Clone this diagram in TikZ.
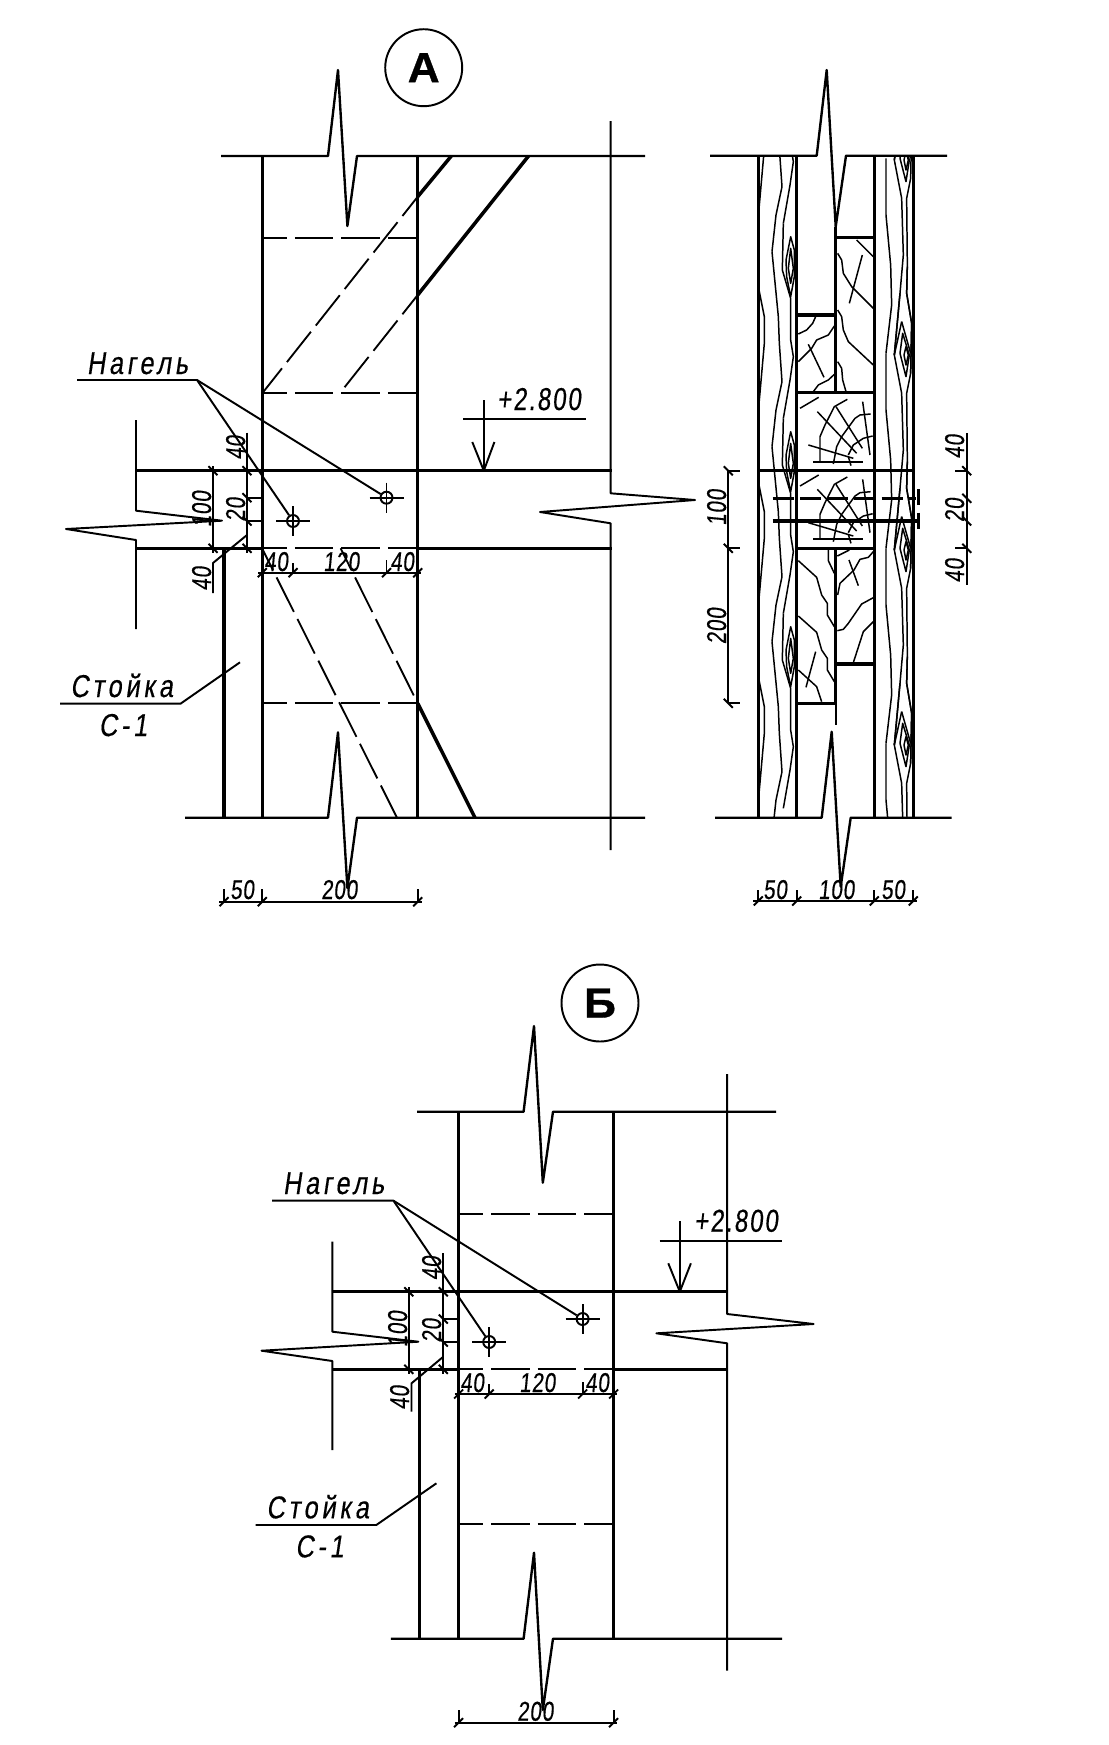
\documentclass[tikz,border=0pt]{standalone}
\usepackage{fontspec}
\newfontfamily\dimfont[FakeSlant=0.1,FakeStretch=0.76,FakeBold=0.4,LetterSpace=3]{Liberation Sans}
\newfontfamily\levelfont[FakeSlant=0.1,FakeStretch=0.76,FakeBold=0.4,LetterSpace=6]{Liberation Sans}
\newfontfamily\labelfont[FakeSlant=0.15,FakeStretch=0.8,FakeBold=0.4,LetterSpace=12]{Liberation Sans}
\newfontfamily\markfont[FakeStretch=1.05,FakeBold=0.8]{Liberation Sans}
\tikzset{
  outline/.style={line width=1.35pt,line join=round},
  heavy/.style={line width=2pt},
  thinline/.style={line width=1.1pt,line join=round},
  grainline/.style={line width=0.85pt,line join=round},
  hidden/.style={line width=1.05pt,dash pattern=on 22pt off 4.5pt,dash phase=8pt},
  bolt/.style={line width=2pt},
  boltdash/.style={line width=2pt,dash pattern=on 12pt off 3.5pt},
  zoomgrid/.style={shift={(700,#1)},x=0.006667cm,y=-0.006667cm},
  dimlabel/.style={font=\dimfont\fontsize{15.5}{15.5}\selectfont,inner sep=0pt,anchor=base west},
  dimlabelv/.style={font=\dimfont\fontsize{15.5}{15.5}\selectfont,inner sep=0pt,anchor=base,rotate=90},
  notelabel/.style={font=\labelfont\fontsize{18}{18}\selectfont,inner sep=0pt,anchor=base west},
  levellabel/.style={font=\levelfont\fontsize{18}{18}\selectfont,inner sep=0pt,anchor=base west},
  sheetmark/.style={draw,circle,line width=1.1pt,minimum size=1.54cm,inner sep=0pt,font=\markfont\bfseries\fontsize{24}{24}\selectfont},
  hole/.style={draw,circle,line width=1.1pt,minimum size=0.24cm,inner sep=0pt}
}
% засечки размерных линий
\newcommand{\vtick}[2]{\draw[thinline] (#1-4.5,#2-4.5) -- (#1+4.5,#2+4.5);}
\newcommand{\htick}[2]{\draw[thinline] (#1-4.5,#2+4.5) -- (#1+4.5,#2-4.5);}
% отверстие под нагель
\newcommand{\holemark}[3]{
  \node[hole] (#1) at (#2,#3) {};
  \draw[thinline] (#2-17,#3) -- (#2+17,#3);
  \draw[thinline] (#2,#3-15) -- (#2,#3+15);
}
% текстура доски, один период
\newcommand{\grainleft}[1]{
  \begin{scope}[zoomgrid=#1]
    \draw[grainline] (175,-155) -- (175,60) -- (193,150) -- (193,230) -- (178,400) -- (175,430);
    \draw[grainline] (216,-45) -- (235,150) -- (238,230) -- (246,345) -- (228,430) -- (216,540);
    \draw[grainline] (250,-130) -- (247,10) -- (272,95) -- (272,220) -- (280,270) -- (270,340) -- (250,455);
    \draw[grainline] (272,-90) -- (258,-20) -- (260,30) -- (272,90) -- (283,30) -- (283,-50) -- cycle;
    \draw[grainline] (272,-55) -- (265,5) -- (272,50) -- (280,5) -- cycle;
  \end{scope}
}
\newcommand{\grainright}[1]{
  \begin{scope}[zoomgrid=#1]
    \draw[grainline] (558,0) -- (558,170) -- (572,320) -- (575,440) -- (558,585);
    \draw[grainline] (600,-180) -- (583,5) -- (605,120) -- (610,290) -- (600,405) -- (583,590);
    \draw[grainline] (622,-260) -- (620,-180) -- (635,-90) -- (632,60) -- (620,120) -- (622,320) -- (620,405) -- (635,495) -- (632,645);
    \draw[grainline] (605,-95) -- (583,5);
    \draw[grainline] (605,-95) -- (632,0);
    \draw[grainline] (608,-60) -- (600,0) -- (618,70) -- (628,5) -- cycle;
    \draw[grainline] (618,-20) -- (612,5) -- (618,35) -- (625,5) -- cycle;
  \end{scope}
}
% годичные кольца в торце
\newcommand{\ringblock}[1]{
  \begin{scope}[zoomgrid=#1]
    \draw[grainline] (300,1045) -- (356,1012);
    \draw[grainline] (352,1055) -- (470,1180);
    \draw[grainline] (408,1040) -- (487,1165);
    \draw[grainline] (360,1205) -- (360,1130) -- (375,1095) -- (403,1040) -- (442,1018);
    \draw[grainline] (325,1155) -- (460,1195);
    \draw[thinline] (340,1205) -- (488,1205);
    \draw[grainline] (400,1212) -- (410,1160) -- (425,1130) -- (465,1075) -- (480,1065) -- (512,1062);
    \draw[grainline] (445,1185) -- (460,1155) -- (490,1135) -- (518,1128);
    \draw[grainline] (488,1025) -- (510,1185);
    \draw[grainline] (453,1217) -- (445,1190);
  \end{scope}
}
\begin{document}
\begin{tikzpicture}[x=0.02cm,y=-0.02cm]
  \useasboundingbox (0,0) rectangle (1109,1745);
  %узел А, фасад
  \node[sheetmark] (markA) at (423.7,67.7) {А};
  %обрывы
  \draw[outline] (221,156) -- (328,156) -- (338,70) -- (347.4,226) -- (357,156) -- (645,156);
  \draw[outline] (185,817.7) -- (328,817.7) -- (338,732.3) -- (347.4,888) -- (357,817.7) -- (645,817.7);
  \draw[thinline] (136,420) -- (136,510.7) -- (222,520.7) -- (66,529) -- (136,540) -- (136,629);
  \draw[thinline] (610.7,121) -- (610.7,493.3) -- (695,500) -- (540,512) -- (610.7,523.3) -- (610.7,850);
  %стойки
  \draw[heavy] (262.3,156) -- (262.3,818);
  \draw[heavy] (417.7,156) -- (417.7,818);
  \draw[heavy] (224,548) -- (224,818);
  %балка
  \draw[heavy] (136,470.7) -- (611.5,470.7);
  \draw[heavy] (136,548.3) -- (262.3,548.3);
  \draw[heavy] (417.7,548.3) -- (611.5,548.3);
  \draw[hidden] (262.3,548.3) -- (417.7,548.3);
  %скрытые линии
  \draw[hidden] (262.3,238.3) -- (417.7,238.3);
  \draw[hidden] (262.3,393.3) -- (417.7,393.3);
  \draw[hidden] (262.3,703.3) -- (417.7,703.3);
  %раскосы
  \draw[heavy] (451.3,156) -- (417.7,196.7);
  \draw[hidden] (417.7,196.7) -- (263.5,391.7);
  \draw[heavy] (528.5,156) -- (417.7,295);
  \draw[hidden] (417.7,295) -- (340,393);
  \draw[hidden] (340.6,548.3) -- (417.7,703.3);
  \draw[heavy] (417.7,703.3) -- (475,817.7);
  \draw[hidden] (262,548.3) -- (397,817.7);
  %нагели
  \holemark{holeAa}{293}{521}
  \holemark{holeAb}{386.5}{497.7}
  \coordinate (nagelA) at (197,380);
  \draw[thinline] (77,380) -- (nagelA) -- (holeAa);
  \draw[thinline] (nagelA) -- (holeAb);
  \node[notelabel] (nagelAtext) at (86.5,374) {Нагель};
  %отметка
  \draw[thinline] (463,419.3) -- (586,419.3);
  \draw[thinline] (483.8,400) -- (483.8,470.7);
  \draw[thinline] (472.3,442) -- (483.8,470.7) -- (494.4,442);
  \node[levellabel] (levelA) at (497,410) {+2.800};
  %стойка
  \draw[thinline] (60,703.7) -- (180.5,703.7) -- (240,662.3);
  \node[notelabel] (postA) at (70,697) {Стойка};
  \node[notelabel] (postAb) at (98.5,736) {С-1};
  %размеры слева
  \draw[thinline] (213,466) -- (213,553);
  \vtick{213}{470.7} \vtick{213}{548.3}
  \node[dimlabelv] (dimAa) at (211,509) {100};
  \draw[thinline] (247,432.7) -- (247,553);
  \vtick{247}{470.7} \vtick{247}{497.7} \vtick{247}{521} \vtick{247}{548.3}
  \draw[thinline] (247,497.7) -- (262,497.7);
  \draw[thinline] (247,521) -- (262,521);
  \node[dimlabelv] (dimAb) at (245,447.5) {40};
  \node[dimlabelv] (dimAc) at (245,509.5) {20};
  \draw[thinline] (247,535) -- (213,563) -- (213,593);
  \node[dimlabelv] (dimAd) at (211,578.5) {40};
  %размеры снизу
  \draw[thinline] (258,572.7) -- (421,572.7);
  \htick{262.3}{572.7} \htick{293}{572.7} \htick{386.5}{572.7} \htick{417.7}{572.7}
  \draw[thinline] (293,563) -- (293,572.7);
  \draw[thinline] (386.5,560) -- (386.5,572.7);
  \node[dimlabel] (dimAe) at (264,571) {40};
  \node[dimlabel] (dimAf) at (323,571) {120};
  \node[dimlabel] (dimAg) at (390,571) {40};
  \draw[thinline] (219,901.7) -- (421.7,901.7);
  \htick{224}{901.7} \htick{262.3}{901.7} \htick{417.7}{901.7}
  \draw[thinline] (224,889) -- (224,901.7);
  \draw[thinline] (262.3,889) -- (262.3,901.7);
  \draw[thinline] (417.7,889) -- (417.7,901.7);
  \node[dimlabel] (dimAh) at (230,899) {50};
  \node[dimlabel] (dimAi) at (321,899) {200};
  %узел А, разрез
  \draw[outline] (710,155.7) -- (816.7,155.7) -- (826.7,70) -- (835.7,226.7) -- (846,155.7) -- (947,155.7);
  \draw[outline] (715,817.7) -- (821.7,817.7) -- (831.7,731.7) -- (840.7,886.7) -- (850.7,817.7) -- (951.7,817.7);
  %доски
  \begin{scope}
    \clip (758.3,156) rectangle (796.7,818);
    \grainleft{71.7}
    \grainleft{266.7}
    \grainleft{461.7}
    \grainleft{656.7}
  \end{scope}
  \begin{scope}
    \clip (874.3,156) rectangle (913.3,818);
    \grainright{158.3}
    \grainright{353.3}
    \grainright{548.3}
    \grainright{743.3}
  \end{scope}
  \draw[heavy] (758.3,156) -- (758.3,818);
  \draw[heavy] (796.7,156) -- (796.7,818);
  \draw[heavy] (874.3,156) -- (874.3,818);
  \draw[heavy] (913.3,156) -- (913.3,818);
  %вставка
  \draw[heavy] (835.7,226.7) -- (835.7,393);
  \draw[heavy] (835.7,548.3) -- (835.7,703.3);
  \draw[thinline] (835.7,703.3) -- (835.7,725);
  \draw[heavy] (835.7,237.7) -- (874.3,237.7);
  \draw[heavy] (796.7,315) -- (835.7,315);
  \draw[heavy] (796.7,392.7) -- (874.3,392.7);
  \draw[heavy] (758.3,470.7) -- (913.3,470.7);
  \draw[heavy] (796.7,548.3) -- (874.3,548.3);
  \draw[heavy] (835.7,664) -- (874.3,664);
  \draw[heavy] (796.7,703.3) -- (835.7,703.3);
  %трещины
  \begin{scope}[zoomgrid=60]
    \draw[grainline] (470,540) -- (500,570) -- (520,590);
    \draw[grainline] (413,580) -- (425,600) -- (430,640) -- (455,680) -- (520,745);
    \draw[grainline] (487,585) -- (448,730);
    \draw[grainline] (413,750) -- (425,770) -- (430,810) -- (445,845) -- (520,915);
    \draw[grainline] (413,905) -- (425,925) -- (428,960) -- (438,995);
    \draw[grainline] (347,770) -- (338,790) -- (320,810) -- (295,822);
    \draw[grainline] (403,798) -- (385,825) -- (350,840) -- (335,865) -- (295,905);
    \draw[grainline] (325,853) -- (372,952);
    \draw[grainline] (403,943) -- (385,960) -- (355,975) -- (340,995);
  \end{scope}
  \begin{scope}[zoomgrid=470]
    \draw[grainline] (412,258) -- (448,240);
    \draw[grainline] (520,245) -- (505,262) -- (480,268) -- (462,300) -- (420,340) -- (413,375);
    \draw[grainline] (447,270) -- (475,347);
    \draw[grainline] (520,383) -- (485,402) -- (445,460) -- (430,478) -- (412,482);
    \draw[grainline] (520,455) -- (490,485) -- (460,578);
    \draw[grainline] (385,240) -- (385,272) -- (403,310);
    \draw[grainline] (295,272) -- (350,322) -- (365,375) -- (382,400) -- (382,435) -- (403,470);
    \draw[grainline] (295,438) -- (350,487) -- (365,540) -- (382,565) -- (382,600) -- (403,635);
    \draw[grainline] (295,600) -- (350,650) -- (365,695);
    \draw[grainline] (347,545) -- (318,652);
  \end{scope}
  \ringblock{60}
  \ringblock{137.7}
  %болты
  \draw[boltdash] (772.7,498.3) -- (916,498.3);
  \draw[bolt] (772.7,521) -- (916.7,521);
  \draw[bolt] (918.3,489) -- (918.3,505);
  \draw[bolt] (918.3,512.7) -- (918.3,529.3);
  %размеры разреза
  \draw[thinline] (728.3,470.7) -- (728.3,703.3);
  \draw[thinline] (728.3,470.7) -- (740,470.7);
  \draw[thinline] (728.3,548.3) -- (740,548.3);
  \draw[thinline] (728.3,703.3) -- (740,703.3);
  \vtick{728.3}{470.7} \vtick{728.3}{548.3} \vtick{728.3}{703.3}
  \node[dimlabelv] (dimSa) at (726,507.5) {100};
  \node[dimlabelv] (dimSb) at (726,626) {200};
  \draw[thinline] (966.7,433) -- (966.7,585);
  \draw[thinline] (955,470.7) -- (966.7,470.7);
  \draw[thinline] (955,548.3) -- (966.7,548.3);
  \vtick{966.7}{470.7} \vtick{966.7}{498.3} \vtick{966.7}{521} \vtick{966.7}{548.3}
  \node[dimlabelv] (dimSc) at (964,446.5) {40};
  \node[dimlabelv] (dimSd) at (964,510) {20};
  \node[dimlabelv] (dimSe) at (964,570.5) {40};
  \draw[thinline] (753,901) -- (916.7,901);
  \htick{758.3}{901} \htick{796.7}{901} \htick{874.3}{901} \htick{913.3}{901}
  \draw[thinline] (758.3,890) -- (758.3,901);
  \draw[thinline] (796.7,890) -- (796.7,901);
  \draw[thinline] (874.3,890) -- (874.3,901);
  \draw[thinline] (913.3,890) -- (913.3,901);
  \node[dimlabel] (dimSf) at (763,899) {50};
  \node[dimlabel] (dimSg) at (818,899) {100};
  \node[dimlabel] (dimSh) at (881,899) {50};
  %узел Б
  \node[sheetmark] (markB) at (600,1003) {Б};
  \draw[outline] (417,1111.7) -- (523.6,1111.7) -- (534,1026) -- (542.8,1182.7) -- (553,1111.7) -- (776,1111.7);
  \draw[outline] (390.8,1638.7) -- (523.6,1638.7) -- (534,1552.7) -- (542.8,1710) -- (553,1638.7) -- (782,1638.7);
  \draw[thinline] (332.3,1241.7) -- (332.3,1331.7) -- (418.4,1341.7) -- (261.5,1350.7) -- (332.3,1361) -- (332.3,1450);
  \draw[thinline] (727.2,1074) -- (727.2,1314) -- (813.7,1324) -- (656.4,1333.3) -- (727.2,1343.3) -- (727.2,1670.7);
  %стойки
  \draw[heavy] (458.6,1111.7) -- (458.6,1638.7);
  \draw[heavy] (613.6,1111.7) -- (613.6,1638.7);
  \draw[heavy] (419.5,1369.3) -- (419.5,1638.7);
  %балка
  \draw[heavy] (332.3,1291.7) -- (728.4,1291.7);
  \draw[heavy] (332.3,1369.3) -- (458.6,1369.3);
  \draw[heavy] (613.6,1369.3) -- (728.4,1369.3);
  \draw[hidden] (458.6,1369.3) -- (613.6,1369.3);
  \draw[hidden] (458.6,1214.3) -- (613.6,1214.3);
  \draw[hidden] (458.6,1524.3) -- (613.6,1524.3);
  %нагели
  \holemark{holeBa}{489.2}{1342}
  \holemark{holeBb}{582.6}{1319}
  \coordinate (nagelB) at (393.5,1200.7);
  \draw[thinline] (272,1200.7) -- (nagelB) -- (holeBa);
  \draw[thinline] (nagelB) -- (holeBb);
  \node[notelabel] (nagelBtext) at (282.6,1194) {Нагель};
  %отметка
  \draw[thinline] (659.5,1240.7) -- (782,1240.7);
  \draw[thinline] (679.8,1221) -- (679.8,1291.7);
  \draw[thinline] (668.3,1263.3) -- (679.8,1291.7) -- (690.9,1263.3);
  \node[levellabel] (levelB) at (694,1231.7) {+2.800};
  %стойка
  \draw[thinline] (255.7,1525) -- (376.3,1525) -- (436.4,1483.3);
  \node[notelabel] (postB) at (266,1518.3) {Стойка};
  \node[notelabel] (postBb) at (295,1557.3) {С-1};
  %размеры
  \draw[thinline] (408.8,1287) -- (408.8,1374);
  \vtick{408.8}{1291.7} \vtick{408.8}{1369.3}
  \node[dimlabelv] (dimBa) at (407,1329) {100};
  \draw[thinline] (443.3,1253) -- (443.3,1374);
  \vtick{443.3}{1291.7} \vtick{443.3}{1319} \vtick{443.3}{1342} \vtick{443.3}{1369.3}
  \draw[thinline] (443.3,1319) -- (458.6,1319);
  \draw[thinline] (443.3,1342) -- (458.6,1342);
  \node[dimlabelv] (dimBb) at (441,1268) {40};
  \node[dimlabelv] (dimBc) at (441,1330.5) {20};
  \draw[thinline] (443.3,1356.7) -- (411.5,1383.3) -- (411.5,1411.7);
  \node[dimlabelv] (dimBd) at (409,1397.5) {40};
  \draw[thinline] (454.7,1394) -- (617.4,1394);
  \htick{458.6}{1394} \htick{489.2}{1394} \htick{582.6}{1394} \htick{613.6}{1394}
  \draw[thinline] (489.2,1384) -- (489.2,1394);
  \draw[thinline] (582.6,1382) -- (582.6,1394);
  \node[dimlabel] (dimBe) at (460,1392) {40};
  \node[dimlabel] (dimBf) at (519,1392) {120};
  \node[dimlabel] (dimBg) at (585,1392) {40};
  \draw[thinline] (454.7,1722.7) -- (617.4,1722.7);
  \htick{458.6}{1722.7} \htick{613.6}{1722.7}
  \draw[thinline] (458.6,1710) -- (458.6,1722.7);
  \draw[thinline] (613.6,1710) -- (613.6,1722.7);
  \node[dimlabel] (dimBh) at (517,1720.7) {200};
\end{tikzpicture}
\end{document}
